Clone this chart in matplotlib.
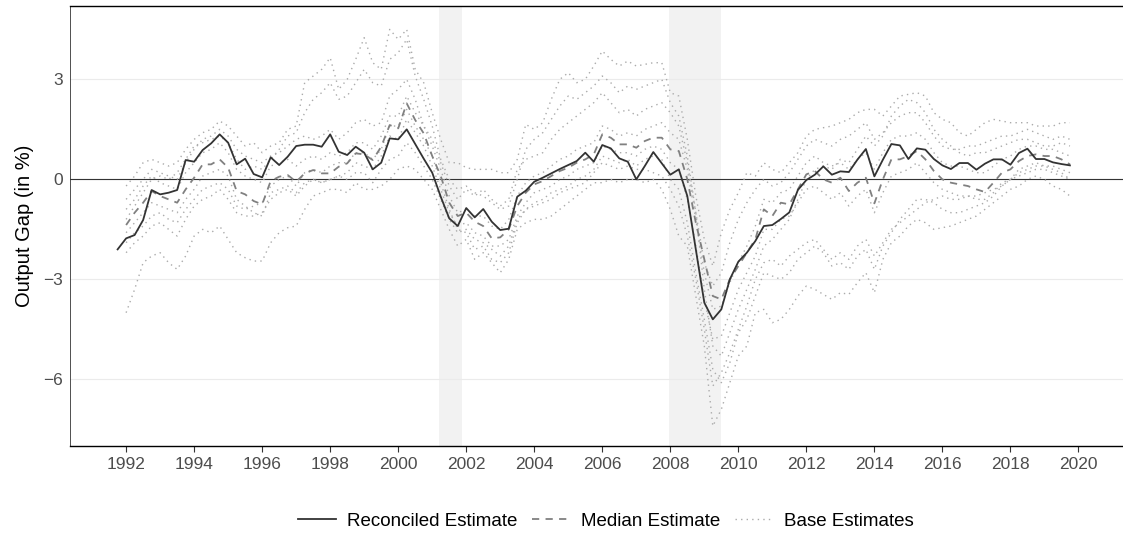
import numpy as np
import matplotlib
matplotlib.use("Agg")
import matplotlib.pyplot as plt
from matplotlib.lines import Line2D

plt.rcParams['font.family'] = ['Liberation Sans', 'DejaVu Sans']

# quarterly output gap estimates (in %), one row per year
reconciled_start = 1991.75
reconciled = [
    -2.10,
    -1.77, -1.67, -1.22, -0.32,   # 1992
    -0.45, -0.40, -0.32, 0.58,    # 1993
    0.53, 0.88, 1.08, 1.35,       # 1994
    1.10, 0.45, 0.62, 0.16,       # 1995
    0.06, 0.66, 0.43, 0.68,       # 1996
    1.00, 1.04, 1.04, 0.98,       # 1997
    1.35, 0.83, 0.73, 0.98,       # 1998
    0.80, 0.30, 0.50, 1.23,       # 1999
    1.20, 1.50, 1.06, 0.62,       # 2000
    0.20, -0.52, -1.17, -1.40,    # 2001
    -0.86, -1.14, -0.89, -1.27,   # 2002
    -1.52, -1.48, -0.52, -0.34,   # 2003
    -0.07, 0.05, 0.18, 0.31,      # 2004
    0.43, 0.55, 0.80, 0.53,       # 2005
    1.03, 0.93, 0.63, 0.53,       # 2006
    0.00, 0.40, 0.82, 0.48,       # 2007
    0.14, 0.30, -0.50, -2.10,     # 2008
    -3.70, -4.20, -3.90, -3.00,   # 2009
    -2.47, -2.20, -1.85, -1.40,   # 2010
    -1.37, -1.19, -0.99, -0.32,   # 2011
    -0.02, 0.14, 0.39, 0.14,      # 2012
    0.24, 0.22, 0.59, 0.91,       # 2013
    0.09, 0.59, 1.06, 1.02,       # 2014
    0.61, 0.93, 0.89, 0.61,       # 2015
    0.42, 0.31, 0.49, 0.49,       # 2016
    0.29, 0.47, 0.60, 0.60,       # 2017
    0.44, 0.79, 0.92, 0.61,       # 2018
    0.61, 0.51, 0.46, 0.42,       # 2019
]

base_start = 1992.0
median = [
    -1.37, -1.00, -0.70, -0.35,
    -0.50, -0.60, -0.70, -0.30,
    0.05, 0.45, 0.45, 0.60,
    0.35, -0.35, -0.45, -0.65,
    -0.75, -0.05, 0.08, 0.13,
    -0.07, 0.18, 0.28, 0.18,
    0.18, 0.38, 0.48, 0.78,
    0.75, 0.58, 0.98, 1.63,
    1.53, 2.28, 1.78, 1.38,
    0.70, 0.10, -0.70, -1.10,
    -1.00, -1.27, -1.40, -1.77,
    -1.74, -1.50, -0.80, -0.40,
    -0.15, -0.05, 0.10, 0.25,
    0.35, 0.50, 0.60, 0.75,
    1.35, 1.25, 1.05, 1.05,
    0.95, 1.15, 1.25, 1.25,
    0.90, 0.85, 0.00, -1.30,
    -2.40, -3.50, -3.60, -3.00,
    -2.60, -2.20, -1.80, -0.90,
    -1.10, -0.70, -0.75, -0.30,
    0.15, 0.25, 0.00, -0.10,
    0.05, -0.35, -0.10, 0.05,
    -0.72, 0.00, 0.60, 0.60,
    0.70, 0.85, 0.60, 0.25,
    0.00, -0.10, -0.15, -0.20,
    -0.30, -0.38, -0.10, 0.20,
    0.30, 0.55, 0.70, 0.75,
    0.70, 0.70, 0.60, 0.45,
]

base_1 = [
    -0.2, 0.1, 0.5, 0.6,  0.5, 0.4, 0.5, 0.9,  1.2, 1.4, 1.5, 1.75,  1.6, 1.3, 1.0, 1.1,
    0.8, 1.0, 1.1, 1.5,  1.6, 2.9, 3.1, 3.3,  3.65, 2.7, 3.0, 3.6,  4.25, 3.5, 3.3, 4.5,
    4.2, 4.5, 3.3, 2.9,  2.0, 1.2, 0.5, 0.5,  0.35, 0.3, 0.3, 0.3,  0.2, 0.2, 0.6, 1.65,
    1.5, 1.7, 2.4, 3.0,  3.2, 2.9, 3.0, 3.4,  3.85, 3.6, 3.4, 3.55,  3.4, 3.45, 3.5, 3.5,
    2.6, 2.5, 1.2, -0.5,  -1.8, -2.6, -1.6, -0.9,  -0.4, 0.2, 0.1, 0.5,  0.3, 0.2, 0.5, 0.8,
    1.3, 1.5, 1.55, 1.6,  1.7, 1.8, 2.0, 2.1,  2.1, 1.9, 2.2, 2.5,  2.55, 2.6, 2.5, 2.0,
    1.8, 1.7, 1.4, 1.3,  1.5, 1.7, 1.8, 1.75,  1.7, 1.7, 1.7, 1.6,  1.6, 1.6, 1.7, 1.7,
]
base_2 = [
    -4.0, -3.3, -2.5, -2.3,  -2.2, -2.5, -2.7, -2.3,  -1.7, -1.5, -1.6, -1.4,  -1.8, -2.2, -2.35, -2.45,
    -2.45, -1.9, -1.6, -1.45,  -1.4, -0.9, -0.5, -0.4,  -0.3, -0.3, -0.4, -0.1,  -0.3, -0.3, -0.2, 0.0,
    0.3, 0.4, 0.3, 0.0,  -0.3, -0.9, -1.5, -2.0,  -1.8, -2.4, -2.2, -2.5,  -2.8, -2.4, -1.5, -1.3,
    -1.2, -1.2, -1.1, -0.9,  -0.7, -0.5, -0.3, -0.1,  -0.1, 0.0, -0.1, 0.0,  0.0, -0.1, 0.0, -0.3,
    -0.9, -1.7, -2.0, -3.5,  -5.0, -7.4, -6.9, -6.1,  -5.3, -5.0, -4.0, -3.9,  -4.3, -4.2, -3.9, -3.5,
    -3.2, -3.3, -3.45, -3.6,  -3.4, -3.45, -3.1, -2.8,  -3.4, -2.4, -1.9, -1.7,  -1.4, -1.2, -1.3, -1.5,
    -1.45, -1.4, -1.3, -1.2,  -1.1, -0.9, -0.7, -0.5,  -0.3, -0.2, 0.0, 0.1,  0.0, -0.2, -0.3, -0.5,
]
base_3 = [
    -0.6, -0.3, 0.0, 0.3,  0.2, 0.1, 0.0, 0.5,  0.9, 1.2, 1.3, 1.5,  1.3, 0.9, 0.7, 0.6,
    0.5, 0.7, 0.8, 1.0,  1.2, 1.3, 1.2, 1.3,  1.5, 1.2, 1.4, 1.7,  1.8, 1.6, 1.7, 2.5,
    2.7, 3.0, 2.4, 1.6,  1.2, 0.5, -0.2, -0.6,  -0.3, -0.5, -0.3, -0.6,  -0.8, -0.6, 0.3, 0.6,
    0.7, 0.8, 1.2, 1.5,  1.7, 1.9, 2.1, 2.3,  2.6, 2.3, 2.0, 2.1,  1.9, 2.1, 2.2, 2.3,
    2.0, 1.6, 0.5, -1.0,  -2.5, -3.2, -2.8, -1.9,  -1.2, -0.7, -0.3, 0.0,  -0.2, -0.1, 0.2, 0.6,
    1.0, 1.2, 1.1, 1.0,  1.2, 1.3, 1.5, 1.7,  1.2, 1.4, 1.7, 1.9,  2.0, 2.0, 1.7, 1.3,
    1.0, 0.9, 0.9, 1.0,  1.0, 1.1, 1.2, 1.3,  1.3, 1.4, 1.5, 1.4,  1.3, 1.2, 1.3, 1.2,
]
base_4 = [
    -2.2, -1.9, -1.7, -1.4,  -1.3, -1.5, -1.7, -1.2,  -0.8, -0.6, -0.5, -0.3,  -0.6, -1.0, -1.1, -1.1,
    -1.0, -0.6, -0.4, -0.3,  -0.5, -0.2, 0.0, -0.1,  0.0, 0.1, 0.0, 0.2,  0.2, -0.1, 0.3, 0.6,
    0.7, 1.1, 0.8, 0.4,  0.0, -0.6, -1.2, -1.6,  -1.5, -1.8, -1.9, -2.1,  -2.3, -2.0, -1.2, -0.9,
    -0.8, -0.7, -0.6, -0.4,  -0.3, -0.2, -0.1, 0.2,  0.5, 0.4, 0.3, 0.4,  0.3, 0.3, 0.2, 0.1,
    -0.3, -0.8, -1.7, -3.0,  -4.5, -6.2, -5.8, -5.2,  -4.5, -3.8, -3.0, -2.5,  -2.4, -2.6, -2.3, -2.1,
    -1.9, -1.8, -2.1, -2.4,  -2.2, -2.4, -2.0, -1.8,  -2.3, -1.9, -1.5, -1.3,  -1.1, -0.9, -0.7, -0.6,
    -0.5, -0.6, -0.6, -0.5,  -0.5, -0.4, -0.3, -0.2,  0.0, 0.1, 0.2, 0.3,  0.3, 0.2, 0.1, 0.0,
]
base_5 = [
    -0.9, -0.6, -0.2, 0.1,  -0.1, -0.2, -0.3, 0.2,  0.5, 0.8, 0.9, 1.1,  0.8, 0.3, 0.1, 0.0,
    -0.1, 0.4, 0.5, 0.6,  0.4, 0.6, 0.7, 0.6,  0.8, 0.7, 0.8, 1.1,  1.1, 0.9, 1.3, 1.9,
    1.9, 2.5, 2.0, 1.6,  1.0, 0.3, -0.5, -1.0,  -0.9, -1.1, -1.1, -1.4,  -1.5, -1.2, -0.5, -0.1,
    0.1, 0.2, 0.4, 0.6,  0.7, 0.9, 1.0, 1.1,  1.6, 1.5, 1.3, 1.4,  1.3, 1.5, 1.6, 1.7,
    1.4, 1.2, 0.3, -1.2,  -2.8, -3.9, -3.8, -3.1,  -2.5, -2.0, -1.4, -0.6,  -0.7, -0.4, -0.3, 0.1,
    0.5, 0.7, 0.5, 0.4,  0.5, 0.3, 0.6, 0.8,  0.3, 0.8, 1.2, 1.3,  1.3, 1.4, 1.2, 0.8,
    0.5, 0.4, 0.4, 0.3,  0.2, 0.2, 0.4, 0.6,  0.7, 0.9, 1.0, 1.0,  0.9, 0.9, 0.8, 0.7,
]
base_6 = [
    -1.6, -1.3, -1.0, -0.7,  -0.8, -0.9, -1.0, -0.6,  -0.3, 0.1, 0.2, 0.3,  0.1, -0.6, -0.8, -1.0,
    -1.1, -0.4, -0.3, -0.2,  -0.4, -0.1, 0.0, -0.1,  0.0, 0.1, 0.2, 0.5,  0.4, 0.3, 0.7, 1.3,
    1.2, 1.8, 1.4, 1.0,  0.4, -0.3, -1.0, -1.4,  -1.3, -1.6, -1.7, -2.0,  -2.0, -1.8, -1.1, -0.7,
    -0.4, -0.3, -0.2, 0.0,  0.1, 0.3, 0.4, 0.5,  1.0, 0.9, 0.8, 0.8,  0.7, 0.9, 1.0, 0.9,
    0.5, 0.3, -0.6, -2.0,  -3.6, -4.8, -4.7, -4.0,  -3.3, -2.8, -2.3, -1.5,  -1.5, -1.2, -1.1, -0.7,
    -0.3, -0.2, -0.4, -0.6,  -0.4, -0.8, -0.5, -0.3,  -1.0, -0.4, 0.1, 0.2,  0.3, 0.5, 0.2, -0.1,
    -0.3, -0.4, -0.5, -0.5,  -0.6, -0.6, -0.4, -0.1,  0.0, 0.3, 0.4, 0.5,  0.4, 0.4, 0.3, 0.2,
]
base_7 = [
    -1.2, -0.8, -0.4, 0.0,  0.1, 0.0, 0.2, 0.6,  1.0, 1.1, 1.2, 1.3,  1.1, 0.6, 0.3, 0.4,
    0.3, 0.6, 0.9, 1.3,  1.4, 2.0, 2.4, 2.6,  2.9, 2.4, 2.5, 2.9,  3.3, 2.9, 2.8, 3.6,
    3.8, 4.2, 3.1, 2.4,  1.6, 0.6, 0.0, -0.3,  -0.2, -0.4, -0.5, -0.7,  -0.9, -0.8, 0.0, 0.9,
    1.2, 1.4, 1.8, 2.2,  2.5, 2.4, 2.6, 2.8,  3.1, 2.9, 2.6, 2.8,  2.7, 2.8, 2.9, 3.0,
    2.3, 1.9, 0.7, -1.0,  -3.3, -5.0, -5.3, -4.6,  -3.9, -3.3, -2.7, -2.0,  -1.8, -1.5, -1.2, -0.6,
    0.0, 0.3, 0.4, 0.3,  0.6, 0.5, 0.9, 1.3,  1.0, 1.3, 1.9, 2.2,  2.4, 2.3, 2.0, 1.5,
    1.2, 1.0, 0.8, 0.7,  0.8, 0.8, 0.9, 1.0,  1.1, 1.2, 1.2, 1.1,  1.0, 1.0, 1.1, 1.0,
]
base_8 = [
    -1.9, -1.6, -1.4, -1.1,  -1.0, -1.2, -1.3, -0.9,  -0.6, -0.3, -0.2, -0.1,  -0.3, -0.8, -0.9, -0.8,
    -0.7, -0.2, 0.0, 0.1,  -0.2, 0.2, 0.3, 0.2,  0.4, 0.5, 0.5, 0.8,  0.8, 0.6, 0.9, 1.6,
    1.6, 2.1, 1.6, 1.2,  0.7, -0.1, -0.9, -1.5,  -1.6, -2.1, -2.0, -2.4,  -2.5, -2.2, -1.3, -0.9,
    -0.7, -0.6, -0.4, -0.3,  -0.2, 0.0, 0.1, 0.3,  0.7, 0.6, 0.5, 0.6,  0.4, 0.6, 0.7, 0.6,
    0.0, -0.3, -1.3, -2.8,  -4.2, -5.7, -6.1, -5.5,  -4.6, -4.2, -3.5, -2.8,  -2.9, -3.0, -2.8, -2.4,
    -2.2, -2.0, -2.2, -2.6,  -2.5, -2.7, -2.3, -2.1,  -2.7, -2.0, -1.6, -1.2,  -0.9, -0.6, -0.6, -0.7,
    -0.9, -1.0, -1.0, -0.9,  -0.8, -0.7, -0.5, -0.2,  0.0, 0.2, 0.3, 0.4,  0.4, 0.3, 0.2, 0.0,
]
base_estimates = [base_1, base_2, base_3, base_4, base_5, base_6, base_7, base_8]

recessions = [(2001.2, 2001.87), (2007.96, 2009.48)]
year_ticks = list(range(1992, 2021, 2))
y_ticks = [-6, -3, 0, 3]

t_rec = reconciled_start + 0.25 * np.arange(len(reconciled))
t_base = base_start + 0.25 * np.arange(len(median))

dotted = (0, (1, 3))
dashed = (0, (4, 3.5))

fig = plt.figure(figsize=(11.23, 5.36), dpi=100)
ax = fig.add_axes([70 / 1123, 90.3 / 536, 1 - 70 / 1123, 440 / 536])

for a, b in recessions:
    ax.axvspan(a, b, color='#F2F2F2', lw=0, zorder=0)

for y in y_ticks:
    ax.axhline(y, color='#EBEBEB', lw=0.8, zorder=0.5)
ax.axhline(0, color='#333333', lw=0.8, zorder=1)

for s in base_estimates:
    ax.plot(t_base, s, color='#ABABAB', lw=1.0, ls=dotted, zorder=2)
ax.plot(t_base, median, color='#808080', lw=1.3, ls=dashed, zorder=3)
ax.plot(t_rec, reconciled, color='#333333', lw=1.3, zorder=4)

ax.set_xlim(1990.35, 2021.31)
ax.set_ylim(-7.99, 5.21)
ax.set_xticks(year_ticks)
ax.set_xticklabels([str(y) for y in year_ticks])
ax.set_yticks(y_ticks)
ax.set_yticklabels([str(y).replace('-', '\u2212') for y in y_ticks])
ax.tick_params(axis='x', length=4, width=0.8, color='#333333', labelcolor='#4D4D4D',
               labelsize=12.5, pad=4)
ax.tick_params(axis='y', length=0, labelcolor='#4D4D4D', labelsize=12.5, pad=5)
ax.set_ylabel('Output Gap (in %)', fontsize=14.5, color='black', labelpad=7)

for side in ['top', 'bottom']:
    ax.spines[side].set_color('black')
    ax.spines[side].set_linewidth(1.0)
ax.spines['left'].set_color('#333333')
ax.spines['left'].set_linewidth(0.6)
ax.spines['right'].set_visible(False)

handles = [
    Line2D([], [], color='#333333', lw=1.3),
    Line2D([], [], color='#808080', lw=1.3, ls=dashed),
    Line2D([], [], color='#ABABAB', lw=1.0, ls=dotted),
]
labels = ['Reconciled Estimate', 'Median Estimate', 'Base Estimates']
fig.legend(handles, labels, loc='center', bbox_to_anchor=(606 / 1123, 15 / 536),
           ncol=3, frameon=False, fontsize=13.5, handlelength=2.0,
           handletextpad=0.6, columnspacing=0.8)

fig.savefig('out.png', dpi=100)
